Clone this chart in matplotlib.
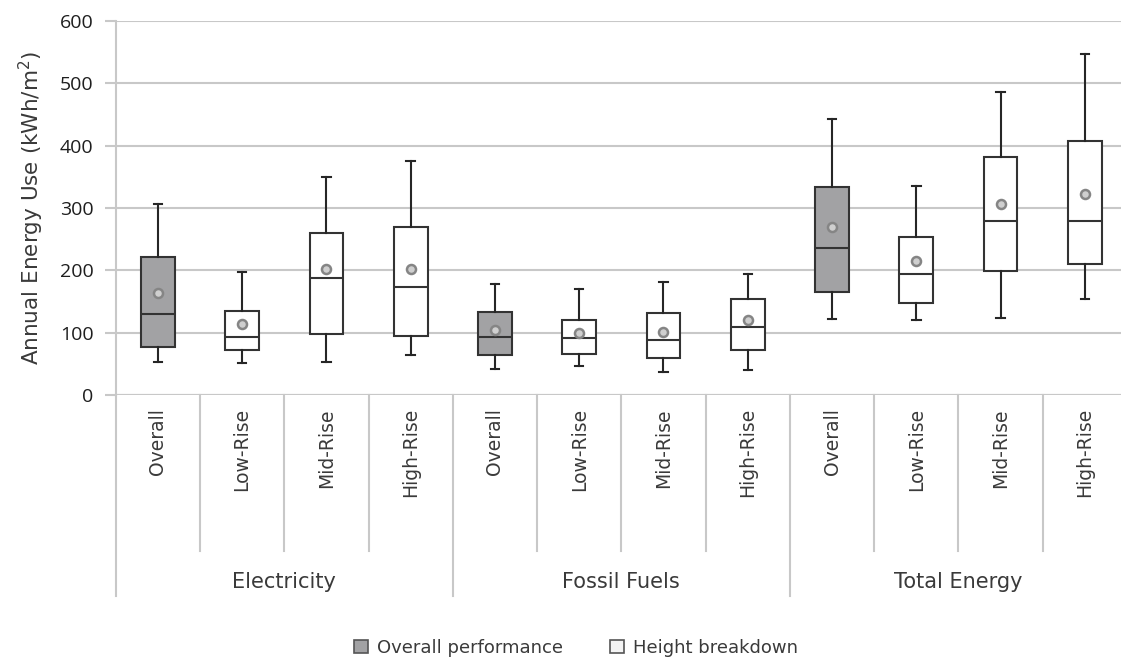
import matplotlib
matplotlib.use("Agg")
import matplotlib.pyplot as plt
from matplotlib.patches import Patch
import matplotlib.transforms as mtransforms

# ---- data ----
groups = ["Electricity", "Fossil Fuels", "Total Energy"]
subcats = ["Overall", "Low-Rise", "Mid-Rise", "High-Rise"]

whislo = [54, 51, 54, 65,   42, 47, 37, 41,   123, 121, 124, 154]
q1     = [78, 72, 98, 95,   65, 66, 60, 73,   166, 148, 199, 210]
med    = [130, 94, 188, 174, 93, 91, 89, 110, 236, 194, 279, 279]
q3     = [221, 135, 260, 269, 134, 121, 132, 154, 334, 253, 381, 408]
whishi = [306, 198, 350, 375, 179, 171, 181, 194, 443, 335, 486, 547]
means  = [164, 115, 203, 203, 105, 100, 102, 120, 269, 215, 306, 323]

yticks = [0, 100, 200, 300, 400, 500, 600]
ylabel = "Annual Energy Use (kWh/m$^2$)"
legend_labels = ["Overall performance", "Height breakdown"]

GRAY = "#a2a2a4"
EDGE = "#333333"
GRID = "#c8c8c8"
TXT = "#3a3a3a"

fig = plt.figure(figsize=(11.21, 6.60), dpi=100)
W, H = 1121, 660
left_px, right_px, top_px, bot_px = 115.7, 1127.0, 20.7, 395.3
ax = fig.add_axes([left_px / W, 1 - bot_px / H, (right_px - left_px) / W, (bot_px - top_px) / H])

n = len(med)
stats = []
for i in range(n):
    stats.append(dict(whislo=whislo[i], q1=q1[i], med=med[i], q3=q3[i],
                      whishi=whishi[i], mean=means[i], fliers=[]))

positions = list(range(n))
bp = ax.bxp(stats, positions=positions, widths=0.4, patch_artist=True,
            showmeans=True, showfliers=False,
            boxprops=dict(edgecolor=EDGE, linewidth=1.5),
            medianprops=dict(color=EDGE, linewidth=1.5),
            whiskerprops=dict(color="#262626", linewidth=1.5),
            capprops=dict(color="#262626", linewidth=1.5),
            capwidths=0.1,
            meanprops=dict(marker="o", markersize=6.5, markerfacecolor="#cfcfcf",
                           markeredgecolor="#858585", markeredgewidth=1.8),
            zorder=3)
for i, box in enumerate(bp["boxes"]):
    box.set_facecolor(GRAY if i % 4 == 0 else "white")

ax.set_xlim(-0.5, n - 0.5)
ax.set_ylim(0, 600)
ax.set_yticks(yticks)
ax.set_yticklabels([str(v) for v in yticks], fontsize=14, color="#1e1e1e", family="Open Sans")
ax.yaxis.grid(True, color=GRID, linewidth=1.5, zorder=0)
ax.set_axisbelow(True)
for s in ["top", "right", "bottom"]:
    ax.spines[s].set_visible(False)
ax.spines["left"].set_color(GRID)
ax.spines["left"].set_linewidth(1.5)
ax.tick_params(axis="y", length=8, width=1.5, color=GRID, pad=8)
ax.tick_params(axis="x", length=0, labelbottom=False)
ax.axhline(0, color=GRID, linewidth=1.5, zorder=1)
ax.set_ylabel(ylabel, fontsize=15.5, color=TXT, labelpad=10)

trans = mtransforms.blended_transform_factory(ax.transData, ax.transAxes)
axh = bot_px - top_px
inner_end = -(551 - bot_px) / axh
group_end = -(596 - bot_px) / axh

for k in range(n + 1):
    x = k - 0.5
    yend = group_end if k % 4 == 0 else inner_end
    ax.plot([x, x], [0, yend], transform=trans, color=GRID, linewidth=1.5,
            clip_on=False, zorder=1)

for i in range(n):
    ax.text(i, -(408 - bot_px) / axh, subcats[i % 4], transform=trans,
            rotation=90, ha="center", va="top", fontsize=13.5, color=TXT)

for g, name in enumerate(groups):
    ax.text(4 * g + 1.5, -(582 - bot_px) / axh, name, transform=trans,
            ha="center", va="center", fontsize=15, color=TXT)

handles = [Patch(facecolor=GRAY, edgecolor="#555555", linewidth=1.2),
           Patch(facecolor="#f4f4f4", edgecolor="#555555", linewidth=1.2)]
fig.legend(handles, legend_labels, loc="center", bbox_to_anchor=(576 / W, 1 - 648 / H),
           ncol=2, frameon=False, fontsize=13, handlelength=0.75, handleheight=0.75,
           handletextpad=0.5, columnspacing=2.6, labelcolor=TXT)

fig.savefig("out.png", dpi=100)
